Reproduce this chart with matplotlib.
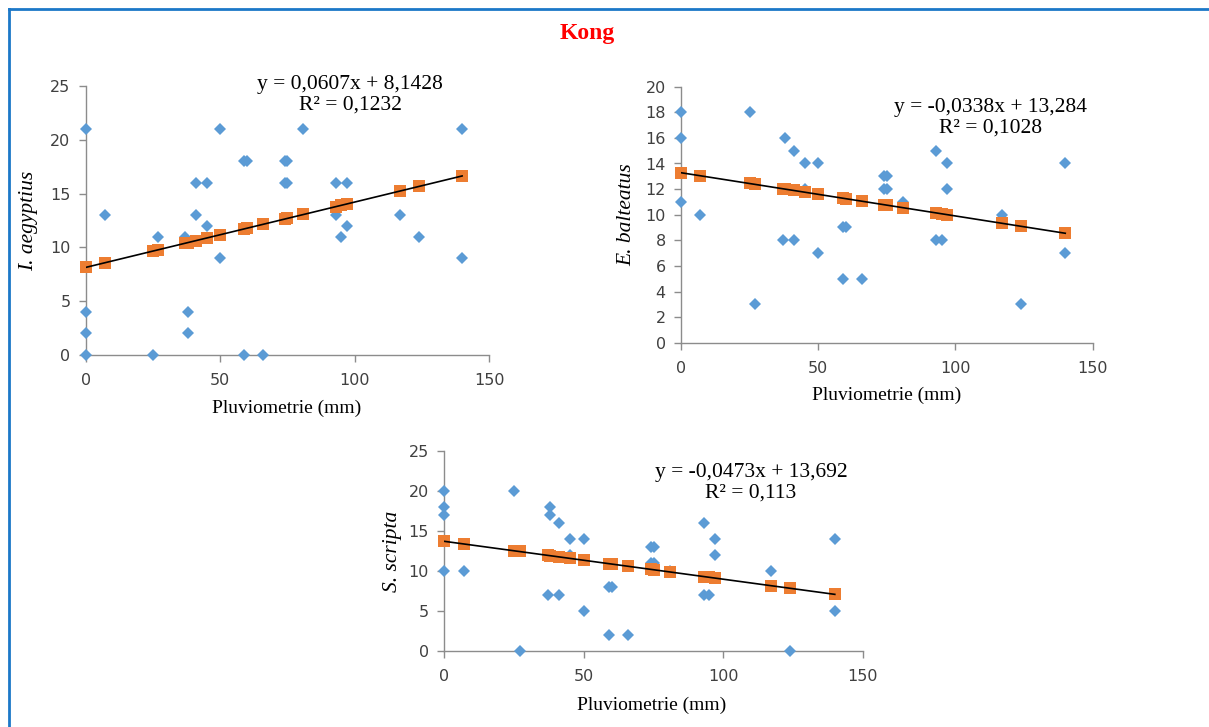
import matplotlib
matplotlib.use('Agg')
import matplotlib.pyplot as plt
from matplotlib.lines import Line2D

W, H = 1209, 727

# rainfall values of the fitted (predicted) series
fit_x = [0, 7, 25, 27, 37, 38, 41, 45, 50, 59, 60, 66, 74, 75, 81, 93, 95, 97, 117, 124, 140]

# I. aegyptius
ia_x = [0, 0, 0, 0, 7, 25, 27, 37, 38, 38, 41, 41, 45, 45, 50, 50, 59, 59, 60, 66,
        74, 74, 75, 75, 81, 93, 93, 95, 97, 97, 117, 124, 140, 140]
ia_y = [21, 4, 2, 0, 13, 0, 11, 11, 4, 2, 16, 13, 16, 12, 21, 9, 18, 0, 18, 0,
        18, 16, 18, 16, 21, 16, 13, 11, 16, 12, 13, 11, 21, 9]
ia_fit = [8.14, 8.57, 9.66, 9.78, 10.39, 10.45, 10.63, 10.87, 11.18, 11.72, 11.79,
          12.15, 12.63, 12.70, 13.06, 13.79, 13.91, 14.03, 15.24, 15.67, 16.64]

# E. balteatus
eb_x = [0, 0, 0, 7, 25, 27, 37, 38, 41, 41, 45, 45, 50, 50, 59, 59, 60, 66,
        74, 74, 75, 75, 81, 93, 93, 95, 97, 97, 117, 124, 140, 140]
eb_y = [18, 16, 11, 10, 18, 3, 8, 16, 15, 8, 14, 12, 14, 7, 9, 5, 9, 5,
        13, 12, 13, 12, 11, 15, 8, 8, 14, 12, 10, 3, 14, 7]
eb_fit = [13.28, 13.05, 12.44, 12.37, 12.03, 12.00, 11.90, 11.76, 11.59, 11.29, 11.26,
          11.05, 10.78, 10.75, 10.55, 10.14, 10.07, 10.00, 9.33, 9.09, 8.55]

# S. scripta
ss_x = [0, 0, 0, 0, 7, 25, 27, 37, 38, 38, 41, 41, 45, 45, 50, 50, 59, 59, 60, 66,
        74, 74, 75, 75, 81, 93, 93, 95, 97, 97, 117, 124, 140, 140]
ss_y = [20, 18, 17, 10, 10, 20, 0, 7, 18, 17, 16, 7, 14, 12, 14, 5, 8, 2, 8, 2,
        13, 11, 13, 11, 10, 16, 7, 7, 14, 12, 10, 0, 14, 5]
ss_fit = [13.69, 13.36, 12.51, 12.42, 11.94, 11.89, 11.75, 11.56, 11.33, 10.90, 10.85,
          10.57, 10.19, 10.14, 9.86, 9.29, 9.20, 9.10, 8.16, 7.83, 7.07]

blue = '#5B9BD5'
orange = '#ED7D31'
serif = 'Liberation Serif'

fig = plt.figure(figsize=(W / 100, H / 100), dpi=100)


def px(x, y):
    return x / W, 1 - y / H


def panel(rect, xs, ys, fy, ymax, ystep, ylabel, eq, eqpos, ylabpos, xlabpos):
    l, t, r, b = rect
    ax = fig.add_axes([l / W, 1 - b / H, (r - l) / W, (b - t) / H])
    ax.plot(xs, ys, 'D', color=blue, ms=6, mew=0, clip_on=False, zorder=3)
    ax.plot(fit_x, fy, 's', color=orange, ms=8, mew=0, clip_on=False, zorder=4)
    ax.plot([fit_x[0], fit_x[-1]], [fy[0], fy[-1]], color='black', lw=1.2, zorder=5)
    ax.set_xlim(0, 150)
    ax.set_ylim(0, ymax)
    ax.set_xticks([0, 50, 100, 150])
    ax.set_yticks(range(0, ymax + 1, ystep))
    for s in ['top', 'right']:
        ax.spines[s].set_visible(False)
    for s in ['left', 'bottom']:
        ax.spines[s].set_color('#8c8c8c')
        ax.spines[s].set_linewidth(1.0)
    ax.tick_params(colors='#8c8c8c', labelcolor='#404040', labelsize=11.5,
                   length=5, width=1.0)
    ax.tick_params(axis='x', pad=8)
    ax.tick_params(axis='y', pad=6)
    fig.text(*px(*ylabpos), ylabel, rotation=90, ha='center', va='center',
             family=serif, style='italic', fontsize=15.5)
    fig.text(*px(*xlabpos), 'Pluviometrie (mm)', ha='center', va='center',
             family=serif, fontsize=14)
    fig.text(*px(*eqpos), eq, ha='center', va='center', family=serif,
             fontsize=15.5, linespacing=1.1)
    return ax


panel((85.7, 86, 489, 355), ia_x, ia_y, ia_fit, 25, 5, 'I. aegyptius',
      'y = 0,0607x + 8,1428\nR² = 0,1232', (350, 95), (29, 221), (287, 408))
panel((681, 86.7, 1092.7, 342.7), eb_x, eb_y, eb_fit, 20, 2, 'E. balteatus',
      'y = -0,0338x + 13,284\nR² = 0,1028', (991, 118), (627, 215), (887, 395))
panel((444.3, 450.7, 862.7, 651), ss_x, ss_y, ss_fit, 25, 5, 'S. scripta',
      'y = -0,0473x + 13,692\nR² = 0,113', (751, 483), (392, 551), (652, 705))

fig.text(*px(587, 33), 'Kong', ha='center', va='center', family=serif,
         weight='bold', color='red', fontsize=17)

# frame lines (top and left)
fig.add_artist(Line2D([9 / W, 1], [1 - 9 / H, 1 - 9 / H], color='#1C78C8', lw=2,
                      transform=fig.transFigure))
fig.add_artist(Line2D([9 / W, 9 / W], [1 - 9 / H, 0], color='#1C78C8', lw=2,
                      transform=fig.transFigure))

fig.savefig('out.png', dpi=100)
